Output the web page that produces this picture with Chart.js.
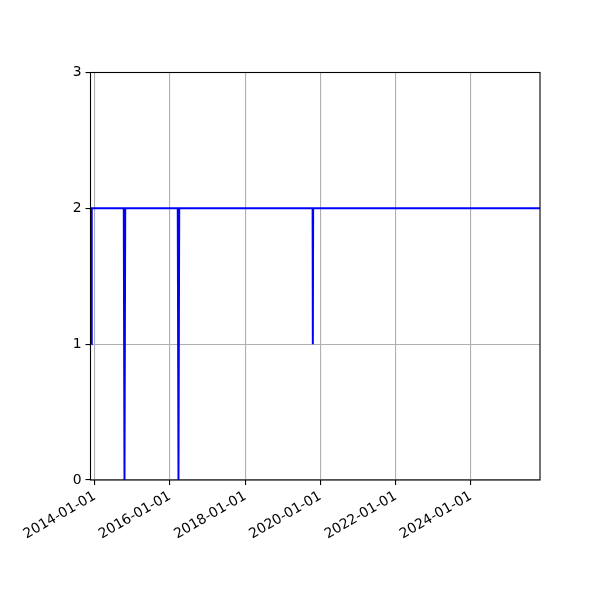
<!DOCTYPE html>
<html>
<head>
<meta charset="utf-8">
<script src="https://cdn.jsdelivr.net/npm/chart.js@4/dist/chart.umd.min.js"></script>
<style>
  html, body { margin: 0; padding: 0; background: #fff; }
  #wrap { width: 600px; height: 600px; }
</style>
</head>
<body>
<div id="wrap"><canvas id="chart" width="600" height="600"></canvas></div>
<script>
// series
const dates = [
  '2013-12-01', '2013-12-03',
  '2014-10-10', '2014-10-17', '2014-10-24',
  '2016-03-17', '2016-03-24', '2016-03-31',
  '2019-10-17', '2019-10-19', '2019-10-22',
  '2025-12-31'
];
const values = [1, 2, 2, 0, 2, 2, 0, 2, 2, 1, 2, 2];

const xTickLabels = ['2014-01-01', '2016-01-01', '2018-01-01', '2020-01-01', '2022-01-01', '2024-01-01'];
const yTicks = [0, 1, 2, 3];
const xMin = '2013-11-21';
const xMax = '2025-11-01';

const toMs = s => Date.parse(s + 'T00:00:00Z');
const fmt = v => new Date(v).toISOString().slice(0, 10);

// box around the plot like matplotlib spines
const frame = {
  id: 'frame',
  afterDraw(chart) {
    const { ctx, chartArea: a } = chart;
    ctx.save();
    ctx.strokeStyle = '#000';
    ctx.lineWidth = 1.1;
    ctx.strokeRect(a.left, a.top, a.right - a.left, a.bottom - a.top);
    ctx.restore();
  }
};

const font = { family: 'DejaVu Sans', size: 13.9 };

new Chart(document.getElementById('chart'), {
  type: 'line',
  data: {
    datasets: [{
      data: dates.map((d, i) => ({ x: toMs(d), y: values[i] })),
      borderColor: '#0000ff',
      borderWidth: 2,
      pointRadius: 0,
      tension: 0,
      fill: false
    }]
  },
  options: {
    responsive: false,
    animation: false,
    devicePixelRatio: 1,
    layout: { padding: { top: 72.5, right: 60, left: 0.5, bottom: 0 } },
    plugins: { legend: { display: false }, tooltip: { enabled: false } },
    scales: {
      x: {
        type: 'linear',
        min: toMs(xMin),
        max: toMs(xMax),
        afterBuildTicks: s => { s.ticks = xTickLabels.map(t => ({ value: toMs(t) })); },
        afterFit: s => { s.height = 120; },
        border: { display: false },
        grid: { color: '#b0b0b0', lineWidth: 1.1, tickColor: '#000', tickLength: 5, tickWidth: 1.1 },
        ticks: {
          color: '#000',
          font: font,
          padding: 3,
          minRotation: 30,
          maxRotation: 30,
          autoSkip: false,
          callback: v => fmt(v)
        }
      },
      y: {
        min: 0,
        max: 3,
        afterBuildTicks: s => { s.ticks = yTicks.map(v => ({ value: v })); },
        afterFit: s => { s.width = 90; },
        border: { display: false },
        grid: { color: '#b0b0b0', lineWidth: 1.1, tickColor: '#000', tickLength: 5, tickWidth: 1.1 },
        ticks: { color: '#000', font: font, padding: 4 }
      }
    }
  },
  plugins: [frame]
});
</script>
</body>
</html>
